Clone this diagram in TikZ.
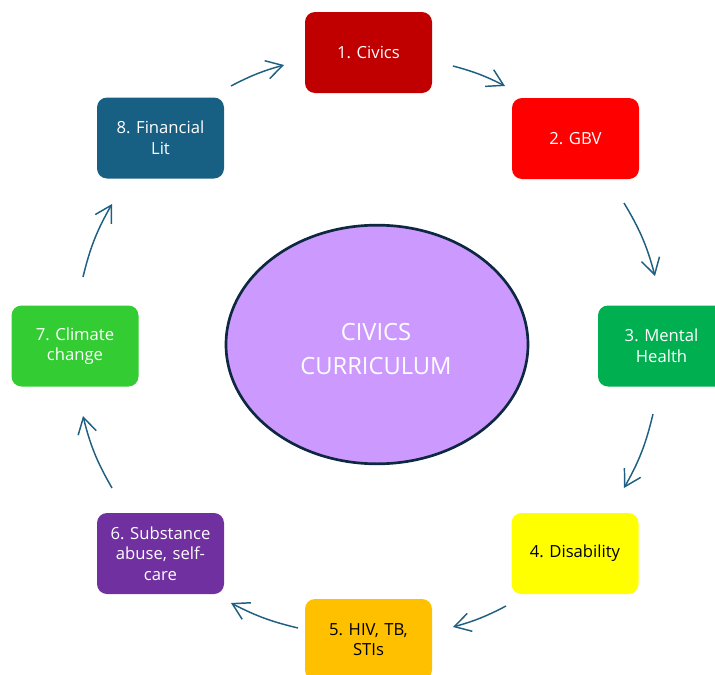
\documentclass[tikz,border=0pt]{standalone}
\usepackage{fontspec}
\setmainfont{Open Sans}
\usetikzlibrary{shapes.geometric,arrows.meta}
\definecolor{cCivics}{HTML}{C00000}
\definecolor{cGBV}{HTML}{FF0000}
\definecolor{cMental}{HTML}{00B050}
\definecolor{cDis}{HTML}{FFFF00}
\definecolor{cHIV}{HTML}{FFC000}
\definecolor{cSub}{HTML}{7030A0}
\definecolor{cClim}{HTML}{33CC33}
\definecolor{cFin}{HTML}{176083}
\definecolor{cArrow}{HTML}{1F5F82}
\definecolor{cEll}{HTML}{CC99FF}
\definecolor{cEllB}{HTML}{0E2841}
\frenchspacing
\tikzset{
  topicbox/.style={rectangle, rounded corners=7.5pt, minimum width=95.25pt, minimum height=60.75pt,
    inner sep=0pt, align=center, text width=90pt, font=\fontsize{12.5}{15.5}\selectfont, text=white},
  cyclearrow/.style={draw=cArrow, line width=1.1pt, -{Straight Barb[length=12pt,width=14pt,line width=1.1pt]}},
}
\begin{document}
\begin{tikzpicture}[x=0.75pt,y=-0.75pt]
\useasboundingbox (0,0) rectangle (715,675);
% center ellipse
\node[ellipse, fill=cEll, draw=cEllB, line width=2pt, minimum width=226.5pt, minimum height=179pt] (center) at (377,344.5) {};
\node[text=white, align=center, font=\fontsize{17.8}{24.8}\selectfont] (centertext) at (376,349) {CIVICS\\CURRICULUM};
% topic boxes
\node[topicbox, fill=cCivics] (civics) at (368.5,52.5) {1. Civics};
\node[topicbox, fill=cGBV] (gbv) at (575.5,138.5) {2. GBV};
\node[topicbox, fill=cMental] (mental) at (661.5,346) {3. Mental\\Health};
\node[topicbox, fill=cDis, text=black] (dis) at (575,553.5) {4. Disability};
\node[topicbox, fill=cHIV, text=black] (hiv) at (368.5,639.5) {5. HIV, TB,\\STIs};
\node[topicbox, fill=cSub] (sub) at (160.5,553.5) {6. Substance\\abuse, self-\\care};
\node[topicbox, fill=cClim] (clim) at (75,346) {7. Climate\\change};
\node[topicbox, fill=cFin] (fin) at (160.5,138) {8. Financial\\Lit};
% arrow end points
\coordinate (a12s) at (453,66);  \coordinate (a12e) at (505,86);
\coordinate (a23s) at (624,203); \coordinate (a23e) at (655,276);
\coordinate (a34s) at (653,414); \coordinate (a34e) at (624,488);
\coordinate (a45s) at (506,606); \coordinate (a45e) at (453,627);
\coordinate (a56s) at (298,628); \coordinate (a56e) at (231,603);
\coordinate (a67s) at (112,488); \coordinate (a67e) at (83,416);
\coordinate (a78s) at (83,277);  \coordinate (a78e) at (112,204);
\coordinate (a81s) at (231,86);  \coordinate (a81e) at (284,65);
\draw[cyclearrow] (a12s) to[bend left=6] (a12e);
\draw[cyclearrow] (a23s) to[bend left=8] (a23e);
\draw[cyclearrow] (a34s) to[bend left=8] (a34e);
\draw[cyclearrow] (a45s) to[bend left=6] (a45e);
\draw[cyclearrow] (a56s) to[bend left=7] (a56e);
\draw[cyclearrow] (a67s) to[bend left=8] (a67e);
\draw[cyclearrow] (a78s) to[bend left=8] (a78e);
\draw[cyclearrow] (a81s) to[bend left=6] (a81e);
\end{tikzpicture}
\end{document}
